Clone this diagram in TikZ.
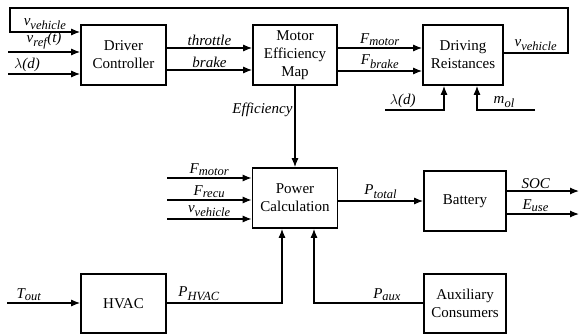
\documentclass[tikz,border=0pt]{standalone}
\usepackage{fontspec}
\setmainfont{Liberation Serif}
\usetikzlibrary{arrows.meta}
% italic signal name with a subscript
\newcommand{\sgn}[2]{\textit{#1}\textsubscript{\fontsize{12.5}{12.5}\selectfont\textit{#2}}}

\begin{document}
\begin{tikzpicture}[x=1pt, y=-1pt, >={Latex[length=9pt,width=7pt]},
    block/.style={draw, line width=1.6pt, minimum height=60pt, align=center,
      inner sep=2pt, font=\fontsize{15}{18}\selectfont},
    sig/.style={->, line width=1.2pt},
    lab/.style={inner sep=2pt, font=\fontsize{15}{17}\selectfont\itshape}]
  \useasboundingbox (0,0) rectangle (579,335);
  % blocks
  \node[block, minimum width=85pt] (drv) at (123.5,55) {Driver\\Controller};
  \node[block, minimum width=84pt] (mot) at (295,55) {Motor\\Efficiency\\Map};
  \node[block, minimum width=80pt] (drs) at (463,55) {Driving\\Reistances};
  \node[block, minimum width=85pt] (pwr) at (295,198) {Power\\Calculation};
  \node[block, minimum width=82pt] (bat) at (465,201) {Battery};
  \node[block, minimum width=85pt, minimum height=59pt] (hvac) at (123.5,303.5) {HVAC};
  \node[block, minimum width=82pt, minimum height=59pt] (aux) at (465,303.5) {Auxiliary\\Consumers};
  % free ends
  \coordinate (vref) at (8,52);
  \coordinate (lamA) at (8,74);
  \coordinate (fbR) at (568,8);
  \coordinate (fbL) at (10,8);
  \coordinate (fbD) at (10,32);
  \coordinate (lamB) at (385,110);
  \coordinate (lamC) at (444,110);
  \coordinate (mB) at (535,110);
  \coordinate (mC) at (477,110);
  \coordinate (inF) at (167,178);
  \coordinate (inR) at (167,200);
  \coordinate (inV) at (167,219);
  \coordinate (soc) at (579,191);
  \coordinate (euse) at (579,214);
  \coordinate (tout) at (7,303);
  \coordinate (hv) at (282,303);
  \coordinate (ax) at (314,303);
  % driver inputs and feedback loop
  \draw[sig] (drs.east |- 0,53) -- node[lab, above] {\sgn{v}{vehicle}} (fbR |- 0,53)
    -- (fbR) -- (fbL) -- (fbD) -- node[lab, above] {\sgn{v}{vehicle}} (drv.west |- fbD);
  \draw[sig] (vref) -- node[lab, above] {\sgn{v}{ref}(t)} (drv.west |- vref);
  \draw[sig] (lamA) -- node[lab, above right, pos=0.05] {$\lambda$(d)} (drv.west |- lamA);
  % driver -> motor map -> driving resistances
  \draw[sig] (drv.east |- 0,48) -- node[lab, above] {throttle} (mot.west |- 0,48);
  \draw[sig] (drv.east |- 0,70) -- node[lab, above] {brake} (mot.west |- 0,70);
  \draw[sig] (mot.east |- 0,48) -- node[lab, above] {\sgn{F}{motor}} (drs.west |- 0,48);
  \draw[sig] (mot.east |- 0,71) -- node[lab, above] {\sgn{F}{brake}} (drs.west |- 0,71);
  \draw[sig] (lamB) -- node[lab, above, pos=0.3] {$\lambda$(d)} (lamC) -- (lamC |- drs.south);
  \draw[sig] (mB) -- node[lab, above, pos=0.53] {\sgn{m}{ol}} (mC) -- (mC |- drs.south);
  \draw[sig] (mot.south) -- node[lab, left, pos=0.3] {Efficiency} (pwr.north);
  % power calculation
  \draw[sig] (inF) -- node[lab, above] {\sgn{F}{motor}} (pwr.west |- inF);
  \draw[sig] (inR) -- node[lab, above] {\sgn{F}{recu}} (pwr.west |- inR);
  \draw[sig] (inV) -- node[lab, above] {\sgn{v}{vehicle}} (pwr.west |- inV);
  \draw[sig] (pwr.east |- 0,201) -- node[lab, above] {\sgn{P}{total}} (bat.west |- 0,201);
  \draw[sig] (bat.east |- soc) -- node[lab, above, pos=0.4] {SOC} (soc);
  \draw[sig] (bat.east |- euse) -- node[lab, above, pos=0.4] {\sgn{E}{use}} (euse);
  % HVAC and auxiliary consumers
  \draw[sig] (tout) -- node[lab, above, pos=0.3] {\sgn{T}{out}} (hvac.west |- tout);
  \draw[sig] (hvac.east |- hv) -- node[lab, above, pos=0.28] {\sgn{P}{HVAC}} (hv) -- (hv |- pwr.south);
  \draw[sig] (aux.west |- ax) -- node[lab, above, pos=0.33] {\sgn{P}{aux}} (ax) -- (ax |- pwr.south);
\end{tikzpicture}
\end{document}
